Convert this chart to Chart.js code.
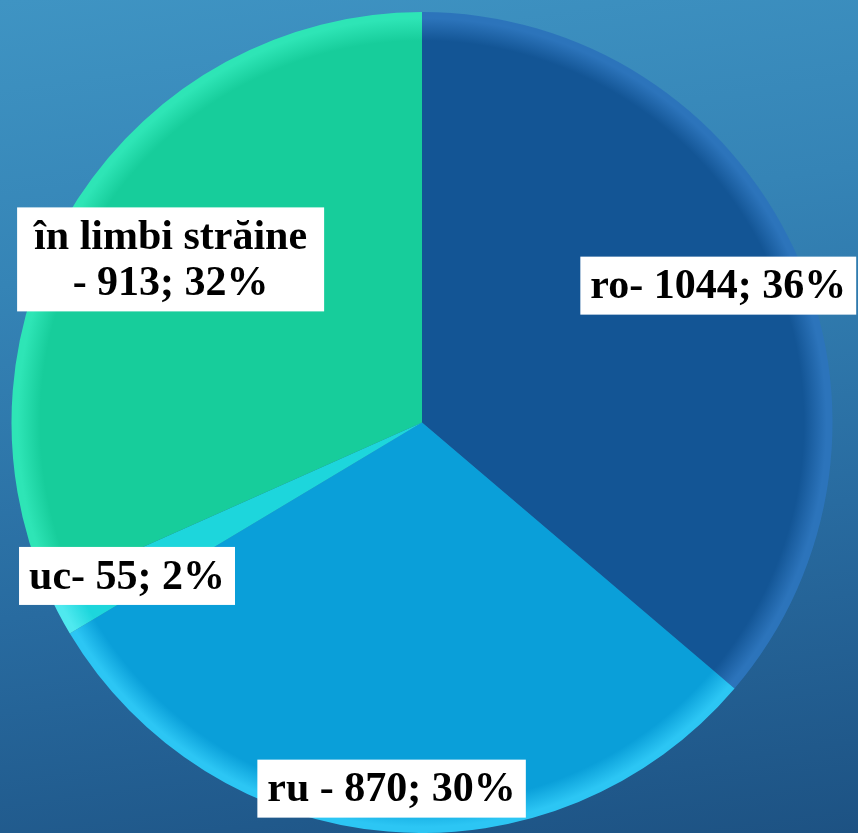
<!DOCTYPE html>
<html>
<head>
<meta charset="utf-8">
<script src="https://cdn.jsdelivr.net/npm/chart.js@4/dist/chart.umd.min.js"></script>
<style>
  html, body { margin: 0; padding: 0; }
  body { width: 858px; height: 833px; overflow: hidden;
         background: linear-gradient(172deg, #3f94c3 0%, #3584b6 30%, #286ba0 65%, #1d5283 100%); }
  canvas { display: block; }
</style>
</head>
<body>
<canvas id="c" width="858" height="833"></canvas>
<script>
// ---- data ----
const categories = ["ro", "ru", "uc", "în limbi străine"];
const values = [1044, 870, 55, 913];
const percents = [36, 30, 2, 32];
const labelTexts = [["ro- 1044; 36%"], ["ru - 870; 30%"], ["uc- 55; 2%"], ["în limbi străine", "- 913; 32%"]];

// ---- styles ----
const baseColors = ["#135595", "#0a9fd9", "#1dd6dc", "#17cd9b"];
const rimColors  = ["#2c74bb", "#2cc6f4", "#4fe9ef", "#2ee5b6"];
const labelRadius = [0.795, 0.895, 0.81, 0.73];
const labelPadX = [10, 10, 10, 17];

function sliceFill(ctx) {
  const chart = ctx.chart;
  const a = chart.chartArea;
  const i = ctx.dataIndex;
  if (!a) return baseColors[i];
  const cx = (a.left + a.right) / 2, cy = (a.top + a.bottom) / 2;
  const r = Math.min(a.right - a.left, a.bottom - a.top) / 2;
  const g = chart.ctx.createRadialGradient(cx, cy, 0, cx, cy, r);
  g.addColorStop(0, baseColors[i]);
  g.addColorStop(0.93, baseColors[i]);
  g.addColorStop(0.985, rimColors[i]);
  g.addColorStop(1, rimColors[i]);
  return g;
}

const boxLabels = {
  id: 'boxLabels',
  afterDatasetsDraw(chart) {
    const ctx = chart.ctx;
    const meta = chart.getDatasetMeta(0);
    ctx.save();
    ctx.font = 'bold 42px "Liberation Serif", "Times New Roman", serif';
    ctx.textAlign = 'center';
    ctx.textBaseline = 'middle';
    const lineH = 46;
    meta.data.forEach((arc, i) => {
      const p = arc.getProps(['x', 'y', 'startAngle', 'endAngle', 'outerRadius'], true);
      const mid = (p.startAngle + p.endAngle) / 2;
      const rr = p.outerRadius * labelRadius[i];
      const x = p.x + Math.cos(mid) * rr;
      const y = p.y + Math.sin(mid) * rr;
      const lines = labelTexts[i];
      const w = Math.max(...lines.map(l => ctx.measureText(l).width));
      const padX = labelPadX[i], padY = 7;
      const h = lines.length === 1 ? 44 : lineH * (lines.length - 1) + 44;
      ctx.fillStyle = '#ffffff';
      ctx.fillRect(x - w / 2 - padX, y - h / 2 - padY, w + 2 * padX, h + 2 * padY);
      ctx.fillStyle = '#000000';
      lines.forEach((l, k) => {
        ctx.fillText(l, x, y - (lines.length - 1) * lineH / 2 + k * lineH + 2);
      });
    });
    ctx.restore();
  }
};

new Chart(document.getElementById('c'), {
  type: 'pie',
  data: {
    labels: categories,
    datasets: [{
      data: values,
      backgroundColor: sliceFill,
      borderWidth: 0
    }]
  },
  options: {
    responsive: false,
    animation: false,
    layout: { padding: { left: 11, right: 25, top: 12, bottom: 0 } },
    plugins: { legend: { display: false }, tooltip: { enabled: false } }
  },
  plugins: [boxLabels]
});
</script>
</body>
</html>
